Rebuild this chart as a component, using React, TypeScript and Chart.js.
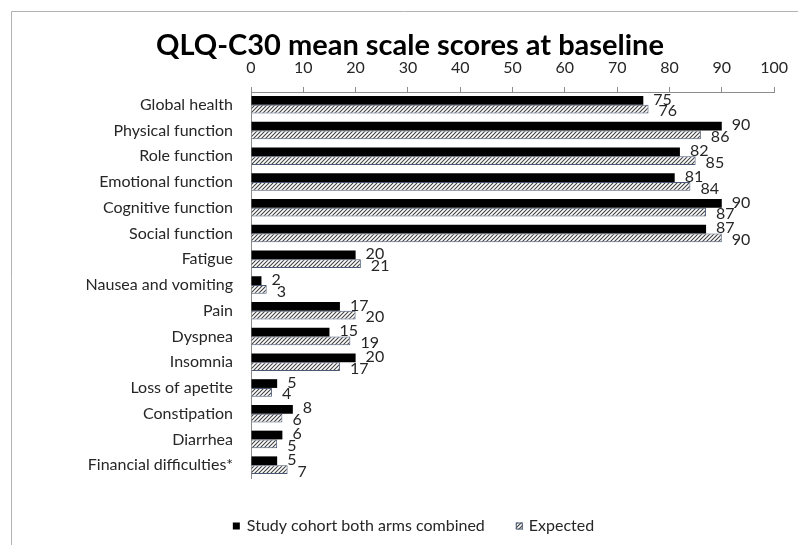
import React, { useEffect, useRef } from 'react';
import { Chart, registerables } from 'chart.js';

Chart.register(...registerables);

const chartTitle = 'QLQ-C30 mean scale scores at baseline';
const categories = [
  'Global health',
  'Physical function',
  'Role function',
  'Emotional function',
  'Cognitive function',
  'Social function',
  'Fatigue',
  'Nausea and vomiting',
  'Pain',
  'Dyspnea',
  'Insomnia',
  'Loss of apetite',
  'Constipation',
  'Diarrhea',
  'Financial difficulties*',
];
const seriesNames = ['Study cohort both arms combined', 'Expected'];
const studyCohort = [75, 90, 82, 81, 90, 87, 20, 2, 17, 15, 20, 5, 8, 6, 5];
const expected = [76, 86, 85, 84, 87, 90, 21, 3, 20, 19, 17, 4, 6, 5, 7];
const axisMin = 0;
const axisMax = 100;
const axisStep = 10;

const FONT = 'Lato, "Open Sans", sans-serif';
const TEXT = '#262626';
const AXIS = '#8c8c8c';
const HATCH_BORDER = '#4a5874';

function makeHatch(): CanvasPattern | string {
  const c = document.createElement('canvas');
  c.width = 4;
  c.height = 4;
  const g = c.getContext('2d');
  if (!g) return '#999';
  g.fillStyle = '#ffffff';
  g.fillRect(0, 0, 4, 4);
  g.strokeStyle = '#404040';
  g.lineWidth = 1.1;
  g.beginPath();
  g.moveTo(0, 4);
  g.lineTo(4, 0);
  g.moveTo(-1, 1);
  g.lineTo(1, -1);
  g.moveTo(3, 5);
  g.lineTo(5, 3);
  g.stroke();
  const p = g.createPattern(c, 'repeat');
  return p || '#999';
}

export default function App() {
  const ref = useRef<HTMLCanvasElement | null>(null);

  useEffect(() => {
    if (!ref.current) return;
    const hatch = makeHatch();

    const framePlugin = {
      id: 'frameAndTitle',
      beforeDraw(chart: any) {
        const ctx = chart.ctx;
        ctx.save();
        ctx.fillStyle = '#ffffff';
        ctx.fillRect(0, 0, chart.width, chart.height);
        ctx.strokeStyle = '#b3b3b3';
        ctx.lineWidth = 1;
        ctx.beginPath();
        ctx.moveTo(11.5, chart.height);
        ctx.lineTo(11.5, 11.5);
        ctx.lineTo(chart.width, 11.5);
        ctx.stroke();
        ctx.fillStyle = '#000000';
        ctx.font = `bold 29px ${FONT}`;
        ctx.textAlign = 'center';
        ctx.textBaseline = 'alphabetic';
        ctx.fillText(chartTitle, 410, 55);
        ctx.restore();
      },
    };

    const labelPlugin = {
      id: 'valueLabels',
      afterDatasetsDraw(chart: any) {
        const ctx = chart.ctx;
        ctx.save();
        ctx.font = `16px ${FONT}`;
        ctx.fillStyle = TEXT;
        ctx.textAlign = 'left';
        ctx.textBaseline = 'middle';
        chart.data.datasets.forEach((ds: any, di: number) => {
          const meta = chart.getDatasetMeta(di);
          meta.data.forEach((el: any, i: number) => {
            ctx.fillText(String(ds.data[i]), el.x + 10, el.y + (di === 0 ? -1 : 2));
          });
        });
        ctx.restore();
      },
    };

    const legendPlugin = {
      id: 'customLegend',
      afterDraw(chart: any) {
        const ctx = chart.ctx;
        ctx.save();
        ctx.font = `16px ${FONT}`;
        const w1 = ctx.measureText(seriesNames[0]).width;
        const w2 = ctx.measureText(seriesNames[1]).width;
        const box = 7;
        const total = box + 7 + w1 + 31 + box + 6 + w2;
        let x = 413.5 - total / 2;
        const yc = 526;
        ctx.fillStyle = '#000000';
        ctx.fillRect(x, yc - box / 2, box, box);
        x += box + 7;
        ctx.fillStyle = TEXT;
        ctx.textAlign = 'left';
        ctx.textBaseline = 'middle';
        ctx.fillText(seriesNames[0], x, yc);
        x += w1 + 31;
        ctx.fillStyle = hatch as any;
        ctx.fillRect(x, yc - box / 2, box, box);
        ctx.strokeStyle = HATCH_BORDER;
        ctx.lineWidth = 1;
        ctx.strokeRect(x + 0.5, yc - box / 2 + 0.5, box - 1, box - 1);
        x += box + 6;
        ctx.fillStyle = TEXT;
        ctx.fillText(seriesNames[1], x, yc);
        ctx.restore();
      },
    };

    const chart = new Chart(ref.current, {
      type: 'bar',
      data: {
        labels: categories,
        datasets: [
          {
            label: seriesNames[0],
            data: studyCohort,
            backgroundColor: '#000000',
            borderWidth: 0,
            categoryPercentage: 0.68,
            barPercentage: 1,
          },
          {
            label: seriesNames[1],
            data: expected,
            backgroundColor: hatch as any,
            borderColor: HATCH_BORDER,
            borderWidth: 1,
            categoryPercentage: 0.68,
            barPercentage: 1,
          },
        ],
      },
      options: {
        indexAxis: 'y',
        animation: false,
        responsive: false,
        maintainAspectRatio: false,
        layout: { padding: { top: 0, left: 0, right: 12, bottom: 67 } },
        plugins: {
          legend: { display: false },
          title: { display: false },
          tooltip: { enabled: false },
        },
        scales: {
          x: {
            position: 'top',
            min: axisMin,
            max: axisMax,
            ticks: {
              stepSize: axisStep,
              color: TEXT,
              font: { family: FONT, size: 16 },
              padding: 10,
              maxRotation: 0,
            },
            grid: {
              display: true,
              drawOnChartArea: false,
              drawTicks: true,
              tickLength: 5,
              color: AXIS,
            },
            border: { display: true, color: AXIS },
            afterFit(scale: any) {
              scale.height = 92;
            },
          },
          y: {
            ticks: {
              color: TEXT,
              font: { family: FONT, size: 16 },
              padding: 18,
              autoSkip: false,
            },
            grid: { display: false, drawTicks: false },
            border: { display: true, color: AXIS },
            afterFit(scale: any) {
              scale.width = 251;
            },
          },
        },
      },
      plugins: [framePlugin, labelPlugin, legendPlugin],
    });

    return () => chart.destroy();
  }, []);

  return (
    <div style={{ position: 'absolute', left: 0, top: 0, width: 798, height: 545 }}>
      <canvas ref={ref} width={798} height={545} style={{ width: 798, height: 545, display: 'block' }} />
    </div>
  );
}
